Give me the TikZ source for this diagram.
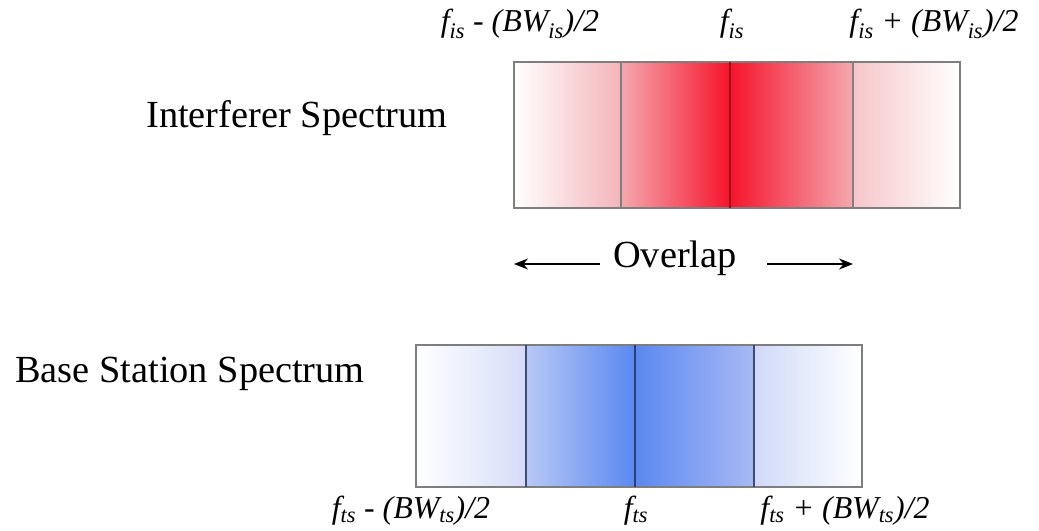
\documentclass[tikz,border=0pt]{standalone}
\usepackage{fontspec}
\setmainfont{Liberation Serif}
\usetikzlibrary{arrows.meta,positioning}
\definecolor{BoxGray}{HTML}{7E7E7E}
\definecolor{RedPale}{HTML}{F3B4B9}
\definecolor{RedLight}{HTML}{F4A8AF}
\definecolor{RedDeep}{HTML}{F5142C}
\definecolor{RedSoft}{HTML}{F6C6C9}
\definecolor{RedLine}{HTML}{9A0A18}
\definecolor{BluePale}{HTML}{D6DCF8}
\definecolor{BlueLight}{HTML}{B8C8F5}
\definecolor{BlueDeep}{HTML}{5A88F0}
\definecolor{BlueMid}{HTML}{A8B9F4}
\definecolor{BlueSoft}{HTML}{D0D9F8}
\definecolor{BlueLine}{HTML}{2E3F78}
\tikzset{
	bandbox/.style={draw=BoxGray, line width=1.8bp},
	divline/.style={draw=#1, line width=1.8bp},
	bandlabel/.style={anchor=base, inner sep=0pt, font=\fontsize{38.5}{40}\selectfont},
	freqlabel/.style={anchor=base, inner sep=0pt, font=\fontsize{32}{34}\selectfont\itshape},
	overarrow/.style={line width=1.4bp, -{Stealth[length=14bp, width=11bp]}},
}
\begin{document}
\begin{tikzpicture}[x=1bp, y=-1bp]
			\useasboundingbox (0,0) rectangle (1039,531);
			
			% interferer band
			\shade[left color=white, right color=RedPale] (514,62) rectangle (621,208);
			\shade[left color=RedLight, right color=RedDeep] (621,62) rectangle (730,208);
			\shade[left color=RedDeep, right color=RedLight] (730,62) rectangle (853,208);
			\shade[left color=RedSoft, right color=white] (853,62) rectangle (960,208);
			\draw[bandbox] (514,62) rectangle (960,208);
			\draw[divline=gray] (621,62) -- (621,208);
			\draw[divline=RedLine] (730,62) -- (730,208);
			\draw[divline=gray] (853,62) -- (853,208);
			%
			\node[bandlabel] (intname) at (297,128) {Interferer Spectrum};
			\node[freqlabel] (intlow) at (520,32) {f\textsubscript{is} - (BW\textsubscript{is})/2};
			\node[freqlabel] (intmid) at (732,32) {f\textsubscript{is}};
			\node[freqlabel] (inthigh) at (934,32) {f\textsubscript{is} + (BW\textsubscript{is})/2};
			
			% overlap
			\node[bandlabel] (overlap) at (675,268) {Overlap};
			\coordinate (leftstart) at (600,264);
			\coordinate (lefttip) at (514,264);
			\coordinate (rightstart) at (767,264);
			\coordinate (righttip) at (853,264);
			\draw[overarrow] (leftstart) -- (lefttip);
			\draw[overarrow] (rightstart) -- (righttip);
			
			% base station band
			\shade[left color=white, right color=BluePale] (416,345) rectangle (526,487);
			\shade[left color=BlueLight, right color=BlueDeep] (526,345) rectangle (635,487);
			\shade[left color=BlueDeep, right color=BlueMid] (635,345) rectangle (754,487);
			\shade[left color=BlueSoft, right color=white] (754,345) rectangle (862,487);
			\draw[bandbox] (416,345) rectangle (862,487);
			\draw[divline=BlueLine!80!gray] (526,345) -- (526,487);
			\draw[divline=BlueLine] (635,345) -- (635,487);
			\draw[divline=BlueLine!80!gray] (754,345) -- (754,487);
			%
			\node[bandlabel] (basename) at (190,383) {Base Station Spectrum};
			\node[freqlabel] (baselow) at (411,518) {f\textsubscript{ts} - (BW\textsubscript{ts})/2};
			\node[freqlabel] (basemid) at (636,518) {f\textsubscript{ts}};
			\node[freqlabel] (basehigh) at (845,518) {f\textsubscript{ts} + (BW\textsubscript{ts})/2};
\end{tikzpicture}
\end{document}
